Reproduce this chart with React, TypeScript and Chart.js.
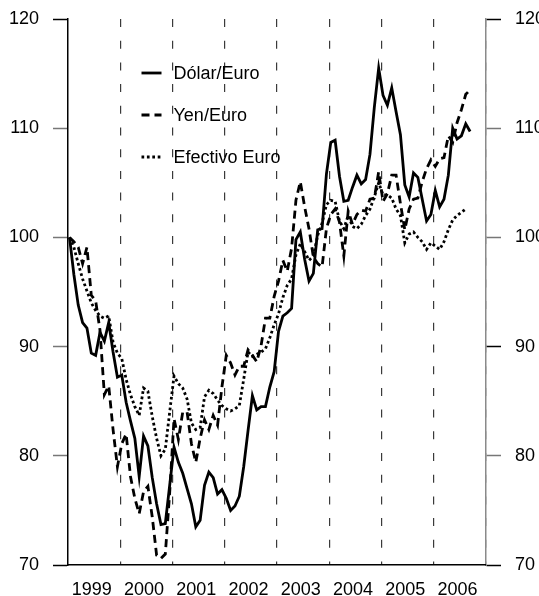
import React, { useEffect, useRef } from 'react';
import { Chart, registerables } from 'chart.js';

Chart.register(...registerables);

// ---- Data (monthly, Jan 1999 = 100) ----
const yearLabels = ['1999', '2000', '2001', '2002', '2003', '2004', '2005', '2006'];
const seriesNames = ['Dólar/Euro', 'Yen/Euro', 'Efectivo Euro'];
const yMin = 70;
const yMax = 120;
const yStep = 10;

const dolarEuro = [
  100, 96.6, 93.8, 92.2, 91.7, 89.4, 89.2, 91.3, 90.5, 92.2, 89.5, 87.2,
  87.4, 84.9, 83.2, 81.6, 78.1, 81.8, 80.9, 78.0, 75.6, 73.7, 73.8, 77.3,
  80.8, 79.4, 78.4, 77.0, 75.6, 73.5, 74.1, 77.3, 78.5, 78.0, 76.5, 76.9,
  76.1, 75.0, 75.4, 76.3, 79.0, 82.3, 85.5, 84.2, 84.5, 84.5, 86.3, 87.7,
  91.4, 92.8, 93.1, 93.5, 99.8, 100.5, 98.0, 96.0, 96.7, 100.7, 100.8, 105.8,
  108.7, 108.9, 105.6, 103.3, 103.4, 104.6, 105.7, 104.9, 105.3, 107.6, 111.9, 115.5,
  113.0, 112.1, 113.7, 111.5, 109.4, 104.8, 103.7, 105.9, 105.5, 103.5, 101.5, 102.1,
  104.3, 102.8, 103.5, 105.7, 110.0, 109.0, 109.3, 110.4, 109.7,
];

const yenEuro = [
  100, 99.6, 99.1, 97.6, 99.1, 94.7, 94.2, 91.5, 85.6, 86.4, 82.4, 79.0,
  81.1, 82.0, 78.1, 76.1, 74.7, 76.7, 77.2, 74.4, 70.9, 70.6, 71.0, 76.6,
  83.4, 81.5, 84.0, 84.0, 81.1, 79.4, 81.6, 83.3, 82.4, 83.7, 82.8, 86.3,
  89.2, 88.5, 87.4, 88.2, 88.2, 89.7, 89.2, 88.6, 90.1, 92.6, 92.6, 94.6,
  96.0, 97.9, 96.9, 99.0, 103.4, 105.1, 102.8, 100.8, 98.2, 97.6, 97.3, 100.8,
  102.1, 102.6, 101.4, 98.3, 102.4, 101.2, 102.1, 102.5, 102.4, 103.5, 103.6, 106.0,
  103.3, 104.0, 105.7, 105.7, 103.1, 100.7, 102.6, 103.5, 103.6, 105.1, 106.3, 107.1,
  106.5, 107.2, 107.3, 109.3, 108.7, 110.5, 111.7, 113.1, 113.5,
];

const efectivoEuro = [
  100, 99.1, 97.6, 96.2, 95.1, 94.0, 93.3, 92.8, 92.6, 92.8, 90.4, 89.4,
  88.9, 87.0, 85.6, 84.5, 83.7, 86.2, 85.9, 83.6, 81.6, 80.0, 80.6, 84.0,
  87.3, 86.6, 86.2, 85.2, 83.0, 82.4, 82.6, 85.4, 86.0, 85.7, 85.1, 84.6,
  84.3, 84.1, 84.3, 84.6, 87.0, 89.5, 89.1, 89.3, 89.5, 89.8, 90.8, 92.0,
  93.0, 94.5, 95.6, 96.2, 98.4, 99.4, 98.7, 97.9, 98.3, 100.2, 101.3, 103.0,
  103.4, 103.3, 101.5, 100.8, 102.0, 101.0, 100.8, 101.2, 102.0, 102.6, 103.7, 105.0,
  103.9, 103.9, 103.6, 102.6, 102.0, 99.5, 100.3, 100.5, 100.0, 99.6, 98.9, 99.5,
  99.2, 98.9, 99.6, 100.7, 101.6, 102.0, 102.3, 102.6,
];

const MONTH_OFFSET = 0.35;
const TOTAL_MONTHS = yearLabels.length * 12;
const toPoints = (arr: number[]) => arr.map((v, i) => ({ x: i + MONTH_OFFSET, y: v }));

const FONT_FAMILY = '"Liberation Sans", Arial, Helvetica, sans-serif';

const lineStyles = [
  { borderDash: [] as number[], width: 2.8 },
  { borderDash: [8, 5], width: 2.8 },
  { borderDash: [2.7, 2.7], width: 2.8 },
];

const inlineLegend = {
  id: 'inlineLegend',
  afterDatasetsDraw(chart: any) {
    const { ctx, chartArea } = chart;
    const x0 = chartArea.left + 73.5;
    const x1 = x0 + 20;
    const tx = x0 + 32;
    const rows = [chartArea.top + 54, chartArea.top + 96, chartArea.top + 138];
    ctx.save();
    chart.data.datasets.forEach((ds: any, i: number) => {
      const y = rows[i];
      ctx.beginPath();
      ctx.setLineDash(ds.borderDash || []);
      ctx.lineWidth = ds.borderWidth;
      ctx.strokeStyle = ds.borderColor;
      ctx.lineCap = 'butt';
      ctx.moveTo(x0, y);
      ctx.lineTo(x1, y);
      ctx.stroke();
      ctx.setLineDash([]);
      ctx.fillStyle = '#000';
      ctx.font = `18px ${FONT_FAMILY}`;
      ctx.textAlign = 'left';
      ctx.textBaseline = 'middle';
      ctx.fillText(ds.label, tx, y + 1);
    });
    ctx.restore();
  },
};

const xTickValues = () => {
  const t: { value: number }[] = [];
  for (let k = 0; k <= yearLabels.length; k++) {
    t.push({ value: k * 12 });
    if (k < yearLabels.length) t.push({ value: k * 12 + 5.45 });
  }
  return t;
};

const zeroPad = (s: any) => {
  s.paddingTop = 0;
  s.paddingBottom = 0;
  s.paddingLeft = 0;
  s.paddingRight = 0;
};

export default function App() {
  const ref = useRef<HTMLCanvasElement | null>(null);

  useEffect(() => {
    if (!ref.current) return;
    const series = [dolarEuro, yenEuro, efectivoEuro];
    const tickFont = { family: FONT_FAMILY, size: 18 };
    const chart = new Chart(ref.current, {
      type: 'line',
      data: {
        datasets: series.map((s, i) => ({
          label: seriesNames[i],
          data: toPoints(s),
          borderColor: '#000',
          backgroundColor: '#000',
          borderWidth: lineStyles[i].width,
          borderDash: lineStyles[i].borderDash,
          pointRadius: 0,
          tension: 0,
          fill: false,
        })),
      },
      options: {
        responsive: false,
        animation: false,
        devicePixelRatio: 1,
        layout: { padding: { top: 19, left: 0, right: 0, bottom: 0 } },
        plugins: { legend: { display: false }, tooltip: { enabled: false } },
        scales: {
          x: {
            type: 'linear',
            min: 0,
            max: TOTAL_MONTHS,
            afterBuildTicks: (s: any) => {
              s.ticks = xTickValues();
            },
            afterFit: (s: any) => {
              s.height = 31;
              zeroPad(s);
            },
            grid: {
              drawTicks: false,
              lineWidth: 1.2,
              color: (c: any) => {
                const v = c.tick ? c.tick.value : -1;
                if (v > 0 && Math.abs(v % 12) < 1e-6) return '#3a3a3a';
                return 'rgba(0,0,0,0)';
              },
            },
            border: { display: true, color: '#000', width: 1.5, dash: [8, 13.7] },
            ticks: {
              autoSkip: false,
              maxRotation: 0,
              padding: 14,
              color: '#000',
              font: tickFont,
              callback: (v: any) => {
                const r = v % 12;
                if (Math.abs(r) < 1e-6) return '';
                return yearLabels[Math.floor(v / 12)];
              },
            },
          },
          y: {
            type: 'linear',
            position: 'left',
            min: yMin,
            max: yMax,
            afterFit: (s: any) => {
              s.width = 68;
              zeroPad(s);
            },
            ticks: { stepSize: yStep, padding: 14, color: '#000', font: tickFont },
            grid: {
              drawOnChartArea: false,
              drawTicks: true,
              tickLength: 15,
              tickWidth: 1.5,
              tickColor: (c: any) => (c.tick && (c.tick.value === 120 || c.tick.value === 70) ? '#000' : '#777'),
            },
            border: { display: true, color: '#000', width: 1.5 },
          },
          y2: {
            type: 'linear',
            position: 'right',
            min: yMin,
            max: yMax,
            afterFit: (s: any) => {
              s.width = 94;
              zeroPad(s);
            },
            ticks: { stepSize: yStep, padding: 14, color: '#000', font: tickFont },
            grid: {
              drawOnChartArea: false,
              drawTicks: true,
              tickLength: 15,
              tickWidth: 1.5,
              tickColor: (c: any) =>
                c.tick && (c.tick.value === 120 || c.tick.value === 90 || c.tick.value === 70) ? '#000' : '#777',
            },
            border: { display: true, color: '#8a8a8a', width: 1.5, z: -1 },
          },
        },
      } as any,
      plugins: [inlineLegend],
    });
    return () => chart.destroy();
  }, []);

  return (
    <div
      style={{
        position: 'absolute',
        left: 0,
        top: 0,
        width: 539,
        height: 596,
        overflow: 'hidden',
        background: '#fff',
      }}
    >
      <canvas ref={ref} width={580} height={596} style={{ display: 'block', width: 580, height: 596 }} />
    </div>
  );
}
